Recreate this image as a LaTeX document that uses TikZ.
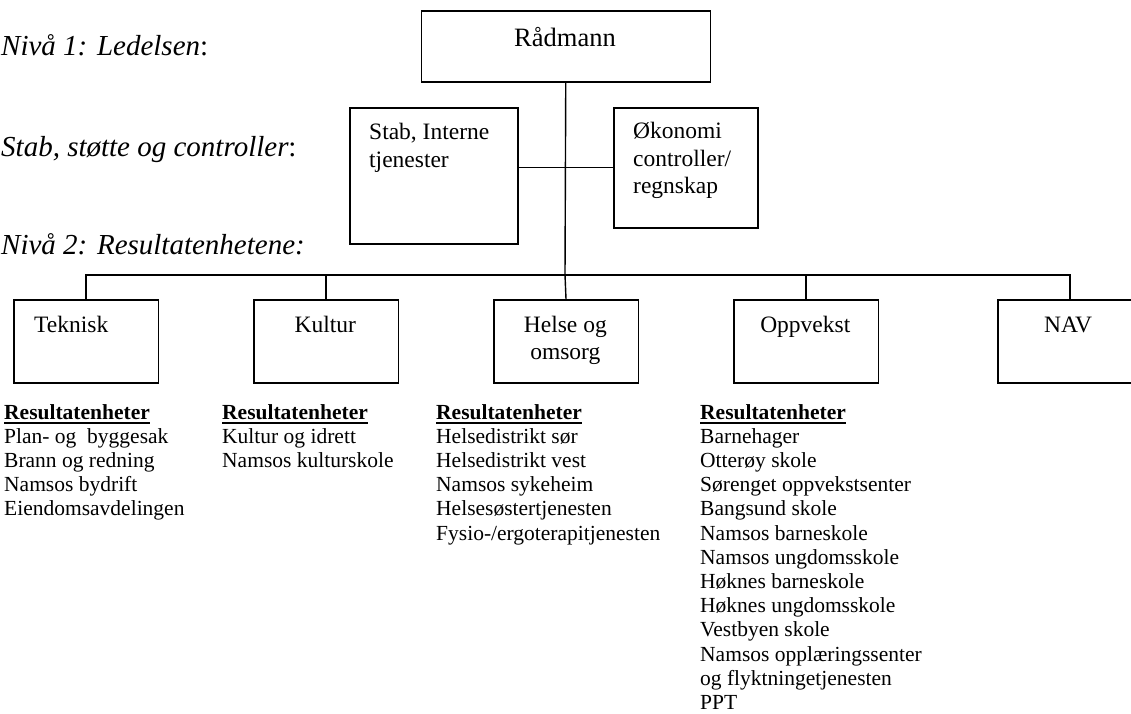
\documentclass[tikz,border=0pt]{standalone}
\usepackage{fontspec}
\setmainfont{Liberation Serif}
\begin{document}
\begin{tikzpicture}[x=1pt,y=-1pt,
  box/.style={draw, line width=1.5pt, inner sep=0pt, anchor=north west, minimum height=83pt, minimum width=144.5pt},
  conn/.style={line width=1.4pt},
  boxtxt/.style={inner sep=0pt, anchor=base, font=\fontsize{23.5}{27.5}\selectfont},
  lbl/.style={inner sep=0pt, anchor=base west, font=\fontsize{29}{32}\selectfont\itshape},
  item/.style={inner sep=0pt, anchor=base west, font=\fontsize{21.5}{24.2}\selectfont},
  head/.style={inner sep=0pt, anchor=base west, font=\fontsize{21.5}{24.2}\selectfont\bfseries},
  ul/.style={line width=2pt}]
\useasboundingbox (0,0) rectangle (1131,713);
\clip (0,0) rectangle (1131,713);

% left labels
\node[lbl] (lab1) at (1,55) {Nivå 1: Ledelsen\upshape:};
\node[lbl] (lab2) at (1,156) {Stab, støtte og controller\upshape:};
\node[lbl] (lab3) at (1,254) {Nivå 2: Resultatenhetene:};

% level 1 boxes
\node[box, minimum width=289pt, minimum height=71pt] (rad) at (420.5,10) {};
\node[box, minimum width=168pt, minimum height=136pt] (stab) at (349,107) {};
\node[box, minimum width=144pt, minimum height=120pt] (okon) at (613,107) {};

\node[boxtxt, font=\fontsize{26.5}{30}\selectfont] (radt) at (565,46) {Rådmann};
\node[boxtxt, anchor=base west] (stabt1) at (369,139) {Stab, Interne};
\node[boxtxt, anchor=base west] (stabt2) at (369,167) {tjenester};
\node[boxtxt, anchor=base west] (okont1) at (633,138) {Økonomi};
\node[boxtxt, anchor=base west] (okont2) at (633,166) {controller/};
\node[boxtxt, anchor=base west] (okont3) at (633,193) {regnskap};

% level 2 boxes
\node[box] (tek) at (13,299) {};
\node[box] (kul) at (253,299) {};
\node[box] (hel) at (493,299) {};
\node[box] (opp) at (733,299) {};
\node[box] (nav) at (997,299) {};

\node[boxtxt, anchor=base west] (tekt) at (34,332) {Teknisk};
\node[boxtxt] (kult) at (325.3,332) {Kultur};
\node[boxtxt] (helt1) at (565.3,332) {Helse og};
\node[boxtxt] (helt2) at (565.3,359) {omsorg};
\node[boxtxt] (oppt) at (805.3,332) {Oppvekst};
\node[boxtxt] (navt) at (1068,332) {NAV};

% connectors
\coordinate (hub) at (565,275);
\draw[conn] (rad.south) -- (hub);
\draw[conn] (stab.east |- okon.west) -- (okon.west);
\draw[conn] (tek.north) -- (tek.north |- hub) -- (nav.north |- hub) -- (nav.north);
\draw[conn] (kul.north) -- (kul.north |- hub);
\draw[conn] (hub) -- (hel.north);
\draw[conn] (opp.north) -- (opp.north |- hub);

% lists
\node[head] (tekh) at (4,419) {Resultatenheter};
\node[head] (kulh) at (222,419) {Resultatenheter};
\node[head] (helh) at (436,419) {Resultatenheter};
\node[head] (opph) at (700,419) {Resultatenheter};
\foreach \h in {tekh,kulh,helh,opph}
  \draw[ul] ([yshift=-3.8pt]\h.base west) -- ([yshift=-3.8pt]\h.base east);

\foreach \t [count=\i] in {Plan- og\ \ byggesak, Brann og redning, Namsos bydrift, Eiendomsavdelingen}
  \node[item] (tek\i) at (4,{419+24.2*\i}) {\t};
\foreach \t [count=\i] in {Kultur og idrett, Namsos kulturskole}
  \node[item] (kul\i) at (222,{419+24.2*\i}) {\t};
\foreach \t [count=\i] in {Helsedistrikt sør, Helsedistrikt vest, Namsos sykeheim, Helsesøstertjenesten, Fysio-/ergoterapitjenesten}
  \node[item] (hel\i) at (436,{419+24.2*\i}) {\t};
\foreach \t [count=\i] in {Barnehager, Otterøy skole, Sørenget oppvekstsenter, Bangsund skole, Namsos barneskole, Namsos ungdomsskole, Høknes barneskole, Høknes ungdomsskole, Vestbyen skole, Namsos opplæringssenter, og flyktningetjenesten, PPT}
  \node[item] (opp\i) at (700,{419+24.2*\i}) {\t};
\end{tikzpicture}
\end{document}
